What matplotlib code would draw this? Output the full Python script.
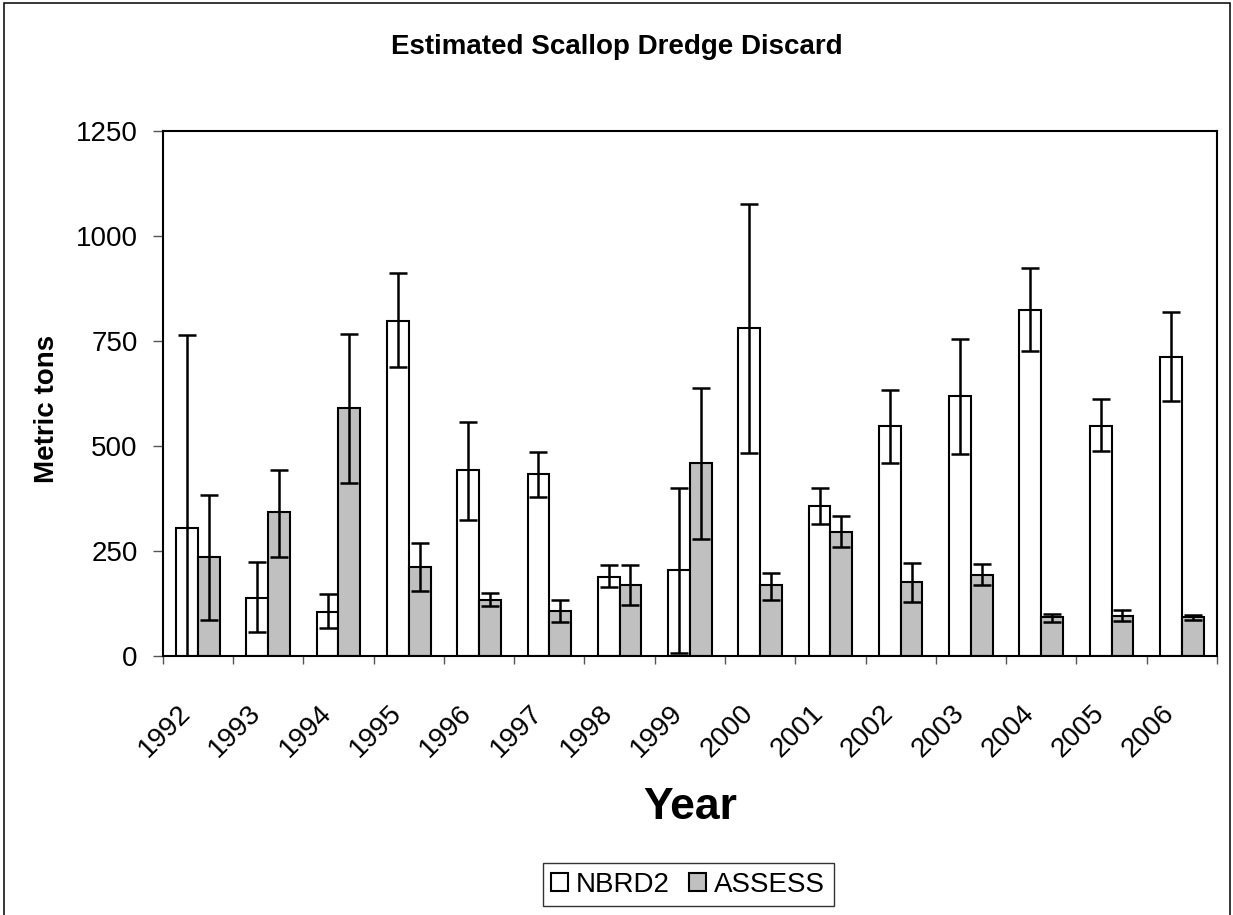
import matplotlib
matplotlib.use("Agg")
import matplotlib.pyplot as plt
import numpy as np
from matplotlib.patches import Rectangle
from matplotlib.transforms import ScaledTranslation

years = ["1992", "1993", "1994", "1995", "1996", "1997", "1998", "1999",
         "2000", "2001", "2002", "2003", "2004", "2005", "2006"]

# NBRD2 estimate with lower / upper whisker ends
nbrd2 = [304, 139, 105, 798, 443, 434, 189, 206, 780, 358, 548, 620, 823, 548, 712]
nbrd2_lo = [0, 58, 66, 687, 323, 379, 164, 8, 484, 315, 460, 480, 726, 489, 607]
nbrd2_hi = [763, 223, 147, 912, 557, 485, 216, 401, 1077, 401, 634, 755, 924, 612, 819]

# ASSESS estimate with lower / upper whisker ends
assess = [236, 342, 591, 211, 134, 108, 168, 460, 168, 295, 177, 193, 92, 96, 92]
assess_lo = [87, 236, 413, 155, 118, 80, 122, 278, 134, 260, 129, 168, 80, 83, 87]
assess_hi = [383, 443, 767, 270, 151, 134, 216, 637, 197, 333, 222, 218, 101, 110, 98]

plt.rcParams["font.family"] = ["Liberation Sans", "DejaVu Sans"]

fig = plt.figure(figsize=(12.33, 9.15), dpi=100)
ax = fig.add_axes([0.132, 0.283, 0.855, 0.574])

x = np.arange(len(years))
w = 0.31
nb = np.array(nbrd2); asx = np.array(assess)
err_nb = [nb - np.array(nbrd2_lo), np.array(nbrd2_hi) - nb]
err_as = [asx - np.array(assess_lo), np.array(assess_hi) - asx]

ekw = dict(elinewidth=1.8, capthick=1.8, ecolor="black", capsize=6.5)
ax.bar(x - w / 2, nb, w, color="white", edgecolor="black", linewidth=1.5,
       yerr=err_nb, error_kw=ekw, label="NBRD2", zorder=2)
ax.bar(x + w / 2, asx, w, color="#c0c0c0", edgecolor="black", linewidth=1.5,
       yerr=err_as, error_kw=ekw, label="ASSESS", zorder=2)

ax.set_xlim(-0.5, len(years) - 0.5)
ax.set_ylim(0, 1250)
ax.set_yticks([0, 250, 500, 750, 1000, 1250])
ax.tick_params(axis="y", labelsize=20, length=7, width=1, color="#555555", pad=11)

ax.set_xticks(np.arange(len(years) + 1) - 0.5)
ax.set_xticklabels([])
ax.tick_params(axis="x", which="major", length=6, width=1, color="#555555")

# year labels sit well below the axis, rotated 45 degrees
off = ScaledTranslation(-11 / 100, -53 / 100, fig.dpi_scale_trans)
for xi, yr in zip(x, years):
    ax.text(xi, 0, yr, transform=ax.get_xaxis_transform() + off, rotation=45,
            ha="right", va="center", rotation_mode="anchor", fontsize=20)

for s in ax.spines.values():
    s.set_linewidth(1.5)

ax.set_ylabel("Metric tons", fontsize=20, fontweight="bold")
ax.yaxis.set_label_coords(-0.097, 0.47)
ax.set_xlabel("Year", fontsize=32, fontweight="bold")
ax.xaxis.set_label_coords(0.5, -0.25)

fig.text(0.5, 0.949, "Estimated Scallop Dredge Discard", ha="center", va="center",
         fontsize=20, fontweight="bold")

leg = fig.legend(loc="center", bbox_to_anchor=(0.558, 0.033), ncol=2, fontsize=20,
                 frameon=True, fancybox=False, edgecolor="black", handlelength=0.6,
                 handleheight=0.6, handletextpad=0.3, columnspacing=0.7,
                 borderpad=0.3)
leg.get_frame().set_linewidth(1)

fig.patches.append(Rectangle((0.0032, -0.01), 0.9944, 1.0067, transform=fig.transFigure,
                             fill=False, edgecolor="black", linewidth=1.1))

fig.savefig("out.png", dpi=100)
